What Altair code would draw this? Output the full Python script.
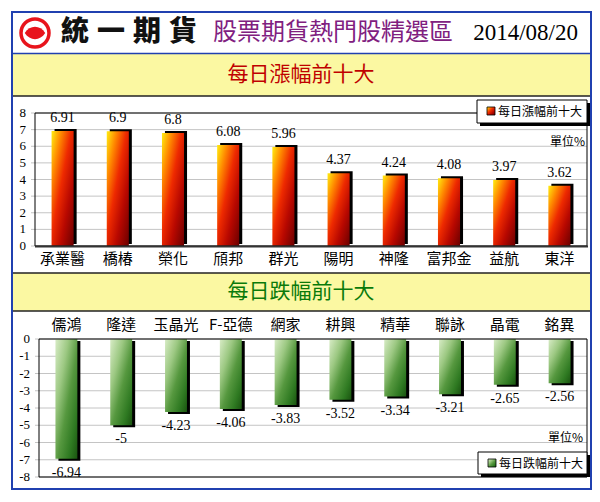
import altair as alt
import pandas as pd

# ---------------- data ----------------
up_names = ["承業醫", "橋椿", "榮化", "頎邦", "群光", "陽明", "神隆", "富邦金", "益航", "東洋"]
up_vals = [6.91, 6.9, 6.8, 6.08, 5.96, 4.37, 4.24, 4.08, 3.97, 3.62]
down_names = ["儒鴻", "隆達", "玉晶光", "F-亞德", "網家", "耕興", "精華", "聯詠", "晶電", "銘異"]
down_vals = [-6.94, -5, -4.23, -4.06, -3.83, -3.52, -3.34, -3.21, -2.65, -2.56]
up_ticks = [0, 1, 2, 3, 4, 5, 6, 7, 8]
down_ticks = [0, -1, -2, -3, -4, -5, -6, -7, -8]
logo_text = "統一期貨"
header_title = "股票期貨熱門股精選區"
date_text = "2014/08/20"
up_title = "每日漲幅前十大"
down_title = "每日跌幅前十大"
unit_text = "單位%"

CJK = "Noto Sans CJK TC"
SERIF = "Liberation Serif"
W, H = 584, 486

one = pd.DataFrame({"k": [0]})


def rect(x, x2, y, y2, fill="white", stroke=None, sw=1.0, opacity=1.0):
    kw = dict(fill=fill, fillOpacity=opacity)
    if stroke is not None:
        kw.update(stroke=stroke, strokeWidth=sw)
    return alt.Chart(one).mark_rect(**kw).encode(
        x=alt.value(x), x2=alt.value(x2), y=alt.value(y), y2=alt.value(y2)
    )


def hline(x, x2, y, color="black", sw=1.0):
    return alt.Chart(one).mark_rule(color=color, strokeWidth=sw).encode(
        x=alt.value(x), x2=alt.value(x2), y=alt.value(y)
    )


def txt(s, x, y, size, color="black", font=CJK, align="center", weight="normal"):
    return alt.Chart(one).mark_text(
        text=s, fontSize=size, color=color, font=font, align=align,
        baseline="middle", fontWeight=weight
    ).encode(x=alt.value(x), y=alt.value(y))


red_grad = alt.LinearGradient(
    gradient="linear", x1=0, y1=0, x2=1, y2=1,
    stops=[
        alt.GradientStop(color="#ffee10", offset=0),
        alt.GradientStop(color="#ff8a00", offset=0.22),
        alt.GradientStop(color="#ee2a00", offset=0.45),
        alt.GradientStop(color="#b80800", offset=0.7),
        alt.GradientStop(color="#6a0000", offset=1),
    ],
)
green_grad = alt.LinearGradient(
    gradient="linear", x1=0, y1=0, x2=1, y2=1,
    stops=[
        alt.GradientStop(color="#d8ecc6", offset=0),
        alt.GradientStop(color="#9cc882", offset=0.3),
        alt.GradientStop(color="#56983f", offset=0.55),
        alt.GradientStop(color="#2f7a22", offset=0.8),
        alt.GradientStop(color="#1a5410", offset=1),
    ],
)

# ---------------- background / frame ----------------
bg = [
    rect(4, 583, 4, 481, fill="white", stroke="#2040b0", sw=2),
    rect(5, 582, 46, 88, fill="#fbf8a2"),
    rect(5, 582, 265, 303, fill="#fbf8a2"),
    hline(5, 582, 45.5, color="#2040b0", sw=1.5),
    hline(5, 582, 88, color="#222222", sw=1.5),
    hline(5, 582, 265, color="#222222", sw=1.5),
    hline(5, 582, 303, color="#222222", sw=1.5),
]

# header: logo
logo = [
    alt.Chart(one).mark_point(shape="circle", size=784, filled=False,
                              stroke="#e8141c", strokeWidth=3.5, fill="white",
                              fillOpacity=1).encode(x=alt.value(27), y=alt.value(25)),
    alt.Chart(one).mark_point(
        shape="M-1,0 C-0.5,-0.8 0.5,-0.8 1,0 C0.5,0.8 -0.5,0.8 -1,0 Z",
        size=420, filled=True, color="#e8141c", opacity=1
    ).encode(x=alt.value(27), y=alt.value(25)),
]
for i, ch in enumerate(logo_text):
    logo.append(txt(ch, 67 + 36 * i, 25, 28, color="#111111", weight=900))

header = logo + [
    txt(header_title, 205, 25, 24, color="#80207f", align="left"),
    txt(date_text, 570, 25, 23, color="black", font=SERIF, align="right"),
    txt(up_title, 293, 67, 21, color="#c00000"),
    txt(down_title, 293, 284, 21, color="#0a7a0a"),
]

# ---------------- top chart (gains) ----------------
up_df = pd.DataFrame({"name": up_names, "v": up_vals, "lab": [f"{v:g}" for v in up_vals]})
up_tick_df = pd.DataFrame({"t": up_ticks, "lab": [str(t) for t in up_ticks]})

ux_scale = alt.Scale(domain=up_names, range=[27, 579], paddingInner=0.6, paddingOuter=0.3)
uy_scale = alt.Scale(domain=[0, 8], range=[238, 105])
ux = alt.X("name:N", sort=up_names, scale=ux_scale, axis=None)
uy = alt.Y("v:Q", scale=uy_scale, axis=None)
uyt = alt.Y("t:Q", scale=uy_scale, axis=None)

up_group = alt.layer(
    alt.Chart(up_tick_df).mark_rule(color="#c4c4c4", strokeWidth=1).encode(
        y=uyt, x=alt.value(23), x2=alt.value(579)),
    alt.Chart(up_tick_df).mark_text(align="right", baseline="middle", fontSize=13,
                                    font=SERIF, color="black").encode(
        y=uyt, x=alt.value(18), text="lab:N"),
    alt.Chart(up_df).mark_bar(color="black", xOffset=3, yOffset=-2).encode(x=ux, y=uy),
    alt.Chart(up_df).mark_bar(color=red_grad).encode(x=ux, y=uy),
    alt.Chart(up_df).mark_text(dy=-13, fontSize=14, font=SERIF, color="black",
                               baseline="middle").encode(x=ux, y=uy, text="lab:N"),
    alt.Chart(up_df).mark_text(fontSize=15, font=CJK, color="black",
                               baseline="middle").encode(x=ux, y=alt.value(251), text="name:N"),
)

# ---------------- bottom chart (losses) ----------------
dn_df = pd.DataFrame({"name": down_names, "v": down_vals, "lab": [f"{v:g}" for v in down_vals]})
dn_tick_df = pd.DataFrame({"t": down_ticks, "lab": [str(t) for t in down_ticks]})

dx_scale = alt.Scale(domain=down_names, range=[31, 579], paddingInner=0.6, paddingOuter=0.3)
dy_scale = alt.Scale(domain=[-8, 0], range=[469, 331])
dxe = alt.X("name:N", sort=down_names, scale=dx_scale, axis=None)
dye = alt.Y("v:Q", scale=dy_scale, axis=None)
dyt = alt.Y("t:Q", scale=dy_scale, axis=None)

dn_group = alt.layer(
    alt.Chart(dn_tick_df).mark_rule(color="#c4c4c4", strokeWidth=1).encode(
        y=dyt, x=alt.value(27), x2=alt.value(579)),
    alt.Chart(dn_tick_df).mark_text(align="right", baseline="middle", fontSize=13,
                                    font=SERIF, color="black").encode(
        y=dyt, x=alt.value(22), text="lab:N"),
    alt.Chart(dn_df).mark_bar(color="black", xOffset=3, yOffset=2).encode(x=dxe, y=dye),
    alt.Chart(dn_df).mark_bar(color=green_grad).encode(x=dxe, y=dye),
    alt.Chart(dn_df).mark_text(dy=14, fontSize=14, font=SERIF, color="black",
                               baseline="middle").encode(x=dxe, y=dye, text="lab:N"),
    alt.Chart(dn_df).mark_text(fontSize=15, font=CJK, color="black",
                               baseline="middle").encode(x=dxe, y=alt.value(317), text="name:N"),
)

# ---------------- plot frames, legends, units ----------------
frames = [
    rect(27, 579, 105, 238, fill="white", stroke="black", sw=1, opacity=0),
    hline(27, 580, 238.5, color="#333333", sw=2),
    rect(31, 579, 331, 469, fill="white", stroke="black", sw=1, opacity=0),
]

legends = [
    rect(472, 582, 95, 118, fill="black"),
    rect(469, 579, 92, 115, fill="white", stroke="black", sw=1),
    alt.Chart(one).mark_rect(color=red_grad, stroke="black", strokeWidth=0.8).encode(
        x=alt.value(479), x2=alt.value(487), y=alt.value(99), y2=alt.value(107)),
    txt(up_title, 490, 103.5, 12, align="left"),
    txt(unit_text, 577, 134, 12, align="right"),
    rect(473, 582, 447, 469, fill="black"),
    rect(470, 579, 444, 466, fill="white", stroke="black", sw=1),
    alt.Chart(one).mark_rect(color=green_grad, stroke="black", strokeWidth=0.8).encode(
        x=alt.value(480), x2=alt.value(488), y=alt.value(451), y2=alt.value(459)),
    txt(down_title, 491, 455.5, 12, align="left"),
    txt(unit_text, 575, 430, 12, align="right"),
]

chart = alt.layer(
    *bg, *header, up_group, dn_group, *frames, *legends
).resolve_scale(x="independent", y="independent").properties(
    width=W, height=H, autosize="none", padding=0
).configure_view(stroke=None)

chart.save("out.html", embed_options={"renderer": "svg", "actions": False})
